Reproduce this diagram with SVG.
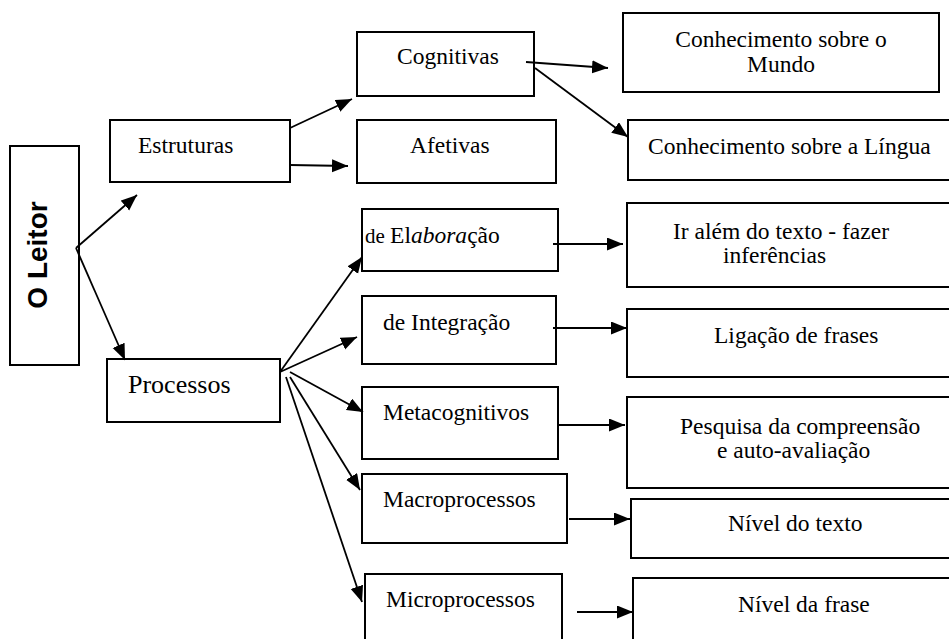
<svg xmlns="http://www.w3.org/2000/svg" width="949" height="639" viewBox="0 0 949 639">
<style>
.box{fill:#fff;stroke:#000;stroke-width:2}
.t{font-family:'Liberation Serif','Times New Roman',serif;font-size:23.5px;fill:#000}
.c line{stroke:#000;stroke-width:1.8;marker-end:url(#ah)}
</style>
<defs>
<marker id="ah" markerUnits="userSpaceOnUse" markerWidth="17" markerHeight="14" refX="16" refY="6.5" orient="auto">
<path d="M0,0 L16,6.5 L0,13 z" fill="#000"/>
</marker>
</defs>
<rect width="949" height="639" fill="#fff"/>
<g id="leitor"><rect class="box" x="10" y="146" width="69" height="219"/>
<text transform="translate(47,255) rotate(-90)" text-anchor="middle" font-family="'Liberation Sans', Arial, sans-serif" font-weight="bold" font-size="28">O Leitor</text></g>
<g id="estruturas"><rect class="box" x="110" y="120" width="180" height="62"/><text class="t" x="138" y="153">Estruturas</text></g>
<g id="processos"><rect class="box" x="107" y="359" width="173" height="63"/><text class="t" x="128" y="393" style="font-size:26px">Processos</text></g>
<g id="cognitivas"><rect class="box" x="357" y="32" width="177" height="64"/><text class="t" x="397" y="64">Cognitivas</text></g>
<g id="afetivas"><rect class="box" x="357" y="120" width="199" height="63"/><text class="t" x="410" y="153">Afetivas</text></g>
<g id="elaboracao"><rect class="box" x="362" y="209" width="196" height="62"/><text class="t" x="365" y="243"><tspan style="font-size:21px">de </tspan>El<tspan font-style="italic">abora</tspan>ção</text></g>
<g id="integracao"><rect class="box" x="362" y="296" width="194" height="68"/><text class="t" x="383" y="330">de Integração</text></g>
<g id="metacognitivos"><rect class="box" x="362" y="387" width="196" height="72"/><text class="t" x="383" y="420">Metacognitivos</text></g>
<g id="macroprocessos"><rect class="box" x="362" y="474" width="205" height="69"/><text class="t" x="383" y="507">Macroprocessos</text></g>
<g id="microprocessos"><rect class="box" x="365" y="574" width="197" height="80"/><text class="t" x="386" y="607">Microprocessos</text></g>
<g id="mundo"><rect class="box" x="623" y="13" width="316" height="79"/><text class="t" x="781" y="47" text-anchor="middle">Conhecimento sobre o</text><text class="t" x="781" y="72" text-anchor="middle">Mundo</text></g>
<g id="lingua"><rect class="box" x="628" y="120" width="340" height="60"/><text class="t" x="648" y="154">Conhecimento sobre a Língua</text></g>
<g id="inferencias"><rect class="box" x="627" y="203" width="340" height="84"/><text class="t" x="673" y="239">Ir além do texto - fazer</text><text class="t" x="723" y="263">inferências</text></g>
<g id="ligacao"><rect class="box" x="627" y="309" width="340" height="68"/><text class="t" x="714" y="343">Ligação de frases</text></g>
<g id="pesquisa"><rect class="box" x="627" y="397" width="340" height="91"/><text class="t" x="680" y="434">Pesquisa da compreensão</text><text class="t" x="717" y="458">e auto-avaliação</text></g>
<g id="niveltexto"><rect class="box" x="631" y="499" width="340" height="59"/><text class="t" x="728" y="531">Nível do texto</text></g>
<g id="nivelfrase"><rect class="box" x="633" y="578" width="340" height="80"/><text class="t" x="738" y="612">Nível da frase</text></g>
<g id="connectors" class="c">
<line x1="76" y1="248" x2="137" y2="195"/>
<line x1="76" y1="248" x2="125" y2="360"/>
<line x1="290" y1="128" x2="352" y2="99"/>
<line x1="290" y1="165" x2="348" y2="166"/>
<line x1="526" y1="62" x2="608" y2="68"/>
<line x1="535" y1="68" x2="628" y2="137"/>
<line x1="280" y1="372" x2="362" y2="257"/>
<line x1="280" y1="372" x2="357" y2="337"/>
<line x1="290" y1="372" x2="363" y2="412"/>
<line x1="290" y1="377" x2="360" y2="490"/>
<line x1="286" y1="377" x2="362" y2="602"/>
<line x1="553" y1="244" x2="623" y2="244"/>
<line x1="553" y1="328" x2="627" y2="328"/>
<line x1="558" y1="425" x2="625" y2="425"/>
<line x1="569" y1="519" x2="630" y2="519"/>
<line x1="577" y1="612" x2="633" y2="612"/>
</g>
</svg>
